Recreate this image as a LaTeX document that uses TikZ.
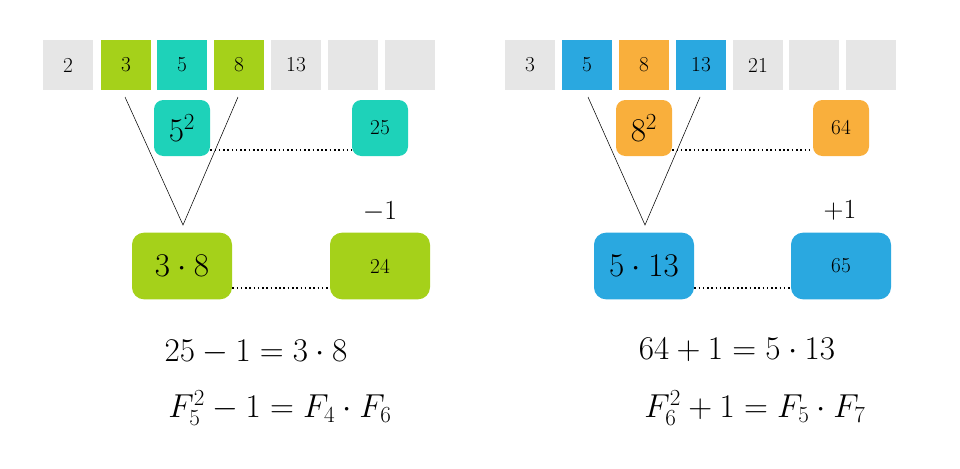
\documentclass[tikz,border=0pt]{standalone}
\begin{document}
\begin{tikzpicture}[x=0.75pt,y=-0.75pt,
 sq/.style={rectangle,minimum width=37.5pt,minimum height=37.5pt,inner sep=0pt,font=\fontsize{16}{16}\selectfont},
 rb/.style={rectangle,rounded corners=7pt,minimum width=42pt,minimum height=42pt,inner sep=0pt},
 wb/.style={rectangle,rounded corners=9pt,minimum width=75pt,minimum height=50pt,inner sep=0pt},
 dl/.style={dotted,line width=1.2pt},
 eq/.style={font=\fontsize{25}{25}\selectfont}]
\definecolor{gr}{HTML}{E6E6E6}\definecolor{lg}{HTML}{A5D11A}\definecolor{tl}{HTML}{1ED2B9}
\definecolor{bl}{HTML}{2AA8E0}\definecolor{or}{HTML}{F9AF3C}
\useasboundingbox (0,0) rectangle (960,468);
% left
\node[sq,fill=gr] (a1) at (68,65) {2};
\node[sq,fill=lg] (a2) at (126,65) {3};
\node[sq,fill=tl] (a3) at (182,65) {5};
\node[sq,fill=lg] (a4) at (239,65) {8};
\node[sq,fill=gr] (a5) at (296,65) {13};
\node[sq,fill=gr] (a6) at (353,65) {};
\node[sq,fill=gr] (a7) at (410,65) {};
\node[rb,fill=tl,font=\fontsize{24}{24}\selectfont] (s1) at (182,128) {$5^2$};
\node[rb,fill=tl,font=\fontsize{16}{16}\selectfont] (v1) at (380,128) {25};
\node[wb,fill=lg,font=\fontsize{24}{24}\selectfont] (p1) at (182,266) {$3\cdot 8$};
\node[wb,fill=lg,font=\fontsize{16}{16}\selectfont] (w1) at (380,266) {24};
\node[font=\fontsize{20}{20}\selectfont] (m1) at (380,212) {$-1$};
\coordinate (t1) at (183,225);
\draw (125,97) -- (t1) -- (238,97);
\draw[dl] (s1.east|-0,150) -- (v1.west|-0,150);
\draw[dl] (p1.east|-0,288) -- (w1.west|-0,288);
\node[eq] (e1) at (256,352) {$25-1=3\cdot 8$};
\node[eq] (f1) at (280,408) {$F_5^2-1=F_4\cdot F_6$};
% right
\node[sq,fill=gr] (b1) at (530,65) {3};
\node[sq,fill=bl] (b2) at (587,65) {5};
\node[sq,fill=or] (b3) at (644,65) {8};
\node[sq,fill=bl] (b4) at (701,65) {13};
\node[sq,fill=gr] (b5) at (758,65) {21};
\node[sq,fill=gr] (b6) at (814,65) {};
\node[sq,fill=gr] (b7) at (871,65) {};
\node[rb,fill=or,font=\fontsize{24}{24}\selectfont] (s2) at (644,128) {$8^2$};
\node[rb,fill=or,font=\fontsize{16}{16}\selectfont] (v2) at (841,128) {64};
\node[wb,fill=bl,font=\fontsize{24}{24}\selectfont] (p2) at (644,266) {$5\cdot 13$};
\node[wb,fill=bl,font=\fontsize{16}{16}\selectfont] (w2) at (841,266) {65};
\node[font=\fontsize{20}{20}\selectfont] (m2) at (840,210) {$+1$};
\coordinate (t2) at (645,225);
\draw (588,97) -- (t2) -- (700,97);
\draw[dl] (s2.east|-0,150) -- (v2.west|-0,150);
\draw[dl] (p2.east|-0,288) -- (w2.west|-0,288);
\node[eq] (e2) at (737,350) {$64+1=5\cdot 13$};
\node[eq] (f2) at (755,408) {$F_6^2+1=F_5\cdot F_7$};
\end{tikzpicture}
\end{document}
